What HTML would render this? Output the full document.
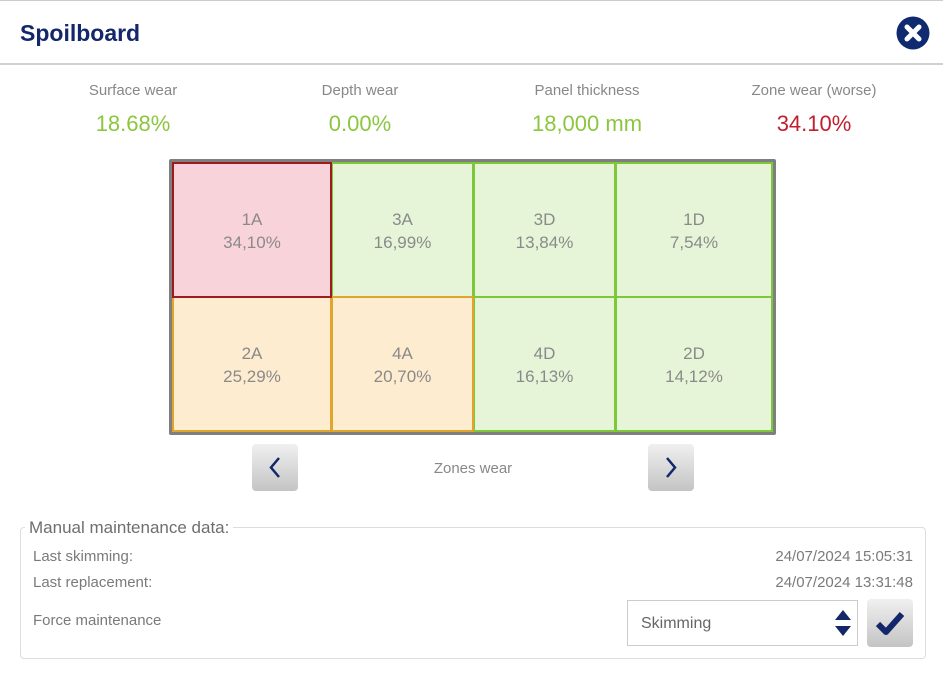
<!DOCTYPE html>
<html><head><meta charset="utf-8"><style>
*{box-sizing:border-box;margin:0;padding:0}
body{width:943px;height:676px;background:#fff;position:relative;overflow:hidden;font-family:"Liberation Sans",sans-serif}
.a{position:absolute}
.lbl{position:absolute;width:240px;text-align:center;font-size:15px;color:#888;top:82px}
.val{position:absolute;width:240px;text-align:center;font-size:22px;top:111px}
.c{position:absolute;border:2px solid;display:flex;flex-direction:column;align-items:center;justify-content:center;color:#8a8a8a;font-size:17px;line-height:23px;padding-top:1px}
.r{background:#f8d3d9;border-color:#9c1c1f}
.g{background:#e6f5d8;border-color:#7dc83a;border-width:2.5px}
.o{background:#fdecd0;border-color:#e0a62b;border-width:2.5px}
.btn{position:absolute;width:46px;height:47px;border-radius:4px;background:linear-gradient(#f0f0f0,#c4c4c4);}
.row{position:absolute;font-size:15px;color:#7a7a7a}
</style></head><body>
<div class="a" style="left:0;top:0;width:943px;height:1px;background:#ccc"></div>
<div class="a" style="left:20px;top:20px;font-size:23px;font-weight:bold;color:#13276a">Spoilboard</div>
<svg class="a" style="left:896px;top:16px" width="34" height="34" viewBox="0 0 34 34"><circle cx="17" cy="17" r="16.5" fill="#0f2a6e"/><path d="M11 11 L23 23 M23 11 L11 23" stroke="#fff" stroke-width="5" stroke-linecap="round"/></svg>
<div class="a" style="left:0;top:63px;width:943px;height:2px;background:#d0d0d0"></div>

<div class="lbl" style="left:13px">Surface wear</div>
<div class="lbl" style="left:240px">Depth wear</div>
<div class="lbl" style="left:467px">Panel thickness</div>
<div class="lbl" style="left:694px">Zone wear (worse)</div>
<div class="val" style="left:13px;color:#8cc63f">18.68%</div>
<div class="val" style="left:240px;color:#8cc63f">0.00%</div>
<div class="val" style="left:467px;color:#8cc63f">18,000 mm</div>
<div class="val" style="left:694px;color:#c0202e">34.10%</div>

<div class="a" style="left:169px;top:159px;width:607px;height:276px;border:3px solid #7f7f7f;background:#e6f5d8;border-radius:2px"></div>
<div class="c g" style="left:331px;top:162px;width:143px;height:136px"><div>3A</div><div>16,99%</div></div>
<div class="c g" style="left:473px;top:162px;width:143px;height:136px"><div>3D</div><div>13,84%</div></div>
<div class="c g" style="left:615px;top:162px;width:158px;height:136px"><div>1D</div><div>7,54%</div></div>
<div class="c g" style="left:473px;top:296px;width:143px;height:136px"><div>4D</div><div>16,13%</div></div>
<div class="c g" style="left:615px;top:296px;width:158px;height:136px"><div>2D</div><div>14,12%</div></div>
<div class="c o" style="left:172px;top:296px;width:160px;height:136px"><div>2A</div><div>25,29%</div></div>
<div class="c o" style="left:331px;top:296px;width:143px;height:136px"><div>4A</div><div>20,70%</div></div>
<div class="c r" style="left:172px;top:162px;width:160px;height:136px"><div>1A</div><div>34,10%</div></div>

<div class="btn" style="left:252px;top:444px"><svg width="46" height="47"><path d="M27 14 L19 23.5 L27 33" fill="none" stroke="#13276a" stroke-width="2.5"/></svg></div>
<div class="btn" style="left:648px;top:444px"><svg width="46" height="47"><path d="M19 14 L27 23.5 L19 33" fill="none" stroke="#13276a" stroke-width="2.5"/></svg></div>
<div class="a" style="left:373px;top:460px;width:200px;text-align:center;font-size:15px;color:#888">Zones wear</div>

<div class="a" style="left:20px;top:527px;width:906px;height:132px;border:1px solid #ddd;border-radius:4px"></div>
<div class="a" style="left:25px;top:518px;padding:0 4px;background:#fff;font-size:17px;color:#6e6e6e">Manual maintenance data:</div>
<div class="row" style="left:33px;top:548px">Last skimming:</div>
<div class="row" style="left:33px;top:574px">Last replacement:</div>
<div class="row" style="left:33px;top:612px">Force maintenance</div>
<div class="row" style="right:30px;top:548px">24/07/2024 15:05:31</div>
<div class="row" style="right:30px;top:574px">24/07/2024 13:31:48</div>

<div class="a" style="left:627px;top:600px;width:231px;height:46px;border:1px solid #ccc;background:#fff"></div>
<div class="a" style="left:641px;top:615px;font-size:16px;color:#666">Skimming</div>
<svg class="a" style="left:834px;top:609px" width="18" height="28"><path d="M1 11 L9 1 L17 11Z M1 17 L9 27 L17 17Z" fill="#13276a"/></svg>
<div class="btn" style="left:867px;top:599px;width:46px;height:48px"><svg width="46" height="48"><path d="M11 25 L19 33 L35 15" fill="none" stroke="#13276a" stroke-width="6" stroke-linejoin="round"/></svg></div>
</body></html>
